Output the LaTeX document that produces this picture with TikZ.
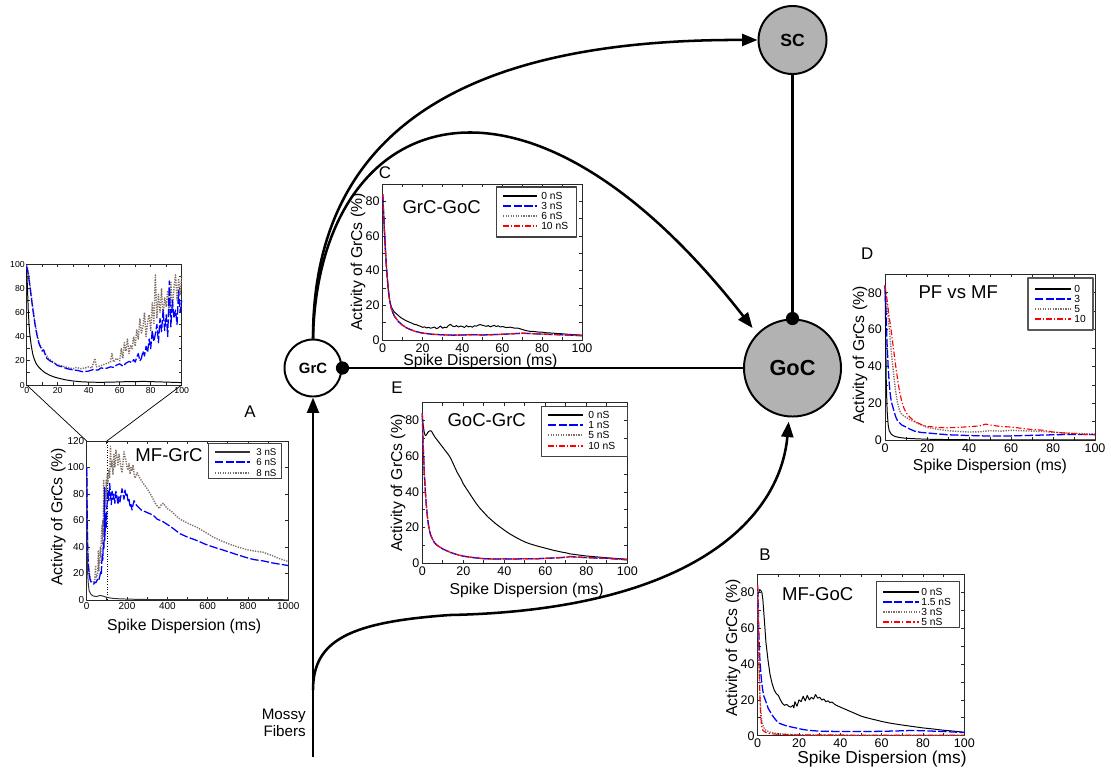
\documentclass[tikz,border=0pt]{standalone}
\usepackage{fontspec}
\setmainfont{Liberation Sans}
\usetikzlibrary{arrows.meta}

\definecolor{brn}{RGB}{128,110,100}
\definecolor{cellgray}{RGB}{178,178,178}
\definecolor{framec}{RGB}{40,40,40}

\newcommand\fsz[1]{\fontsize{#1pt}{#1pt}\selectfont}

% axes box with inward ticks on all four sides (data units)
% #1 xmax, #2 ymax, #3 x tick step, #4 y tick step, #5 tick length in x units, #6 tick length in y units
\newcommand\axesframe[6]{%
  \draw[frame] (0,0) rectangle (#1,#2);
  \foreach \t in {0,#3,...,#1}{\draw[frame] (\t,0) -- (\t,#6) (\t,#2) -- (\t,#2-#6);}
  \foreach \t in {0,#4,...,#2}{\draw[frame] (0,\t) -- (#5,\t) (#1,\t) -- (#1-#5,\t);}
}
% legend row: style, line start x, line end x, row y, text x, text, node name
\newcommand\legrow[7]{%
  \draw[#1, line width=1pt] (#2,#4) -- (#3,#4);
  \node[leg] (#7) at (#5,#4) {#6};
}

\tikzset{
  frame/.style={draw=framec, line width=0.6pt},
  panel/.style n args={4}{shift={(#1,#2)}, xscale=#3, yscale=#4},
  tkx/.style={font=\fsz{8.9}, anchor=north, inner sep=2.2pt},
  tky/.style={font=\fsz{8.9}, anchor=east, inner sep=2pt},
  axlab/.style={font=\fsz{11.2}, inner sep=0pt},
  ttl/.style={font=\fsz{13.2}, inner sep=0pt},
  letter/.style={font=\fsz{12}, inner sep=0pt},
  leg/.style={font=\fsz{7.3}, anchor=west, inner sep=0pt},
  legbox/.style={draw=black!75, line width=0.9pt},
  s0/.style={black, line width=0.7pt},
  s1/.style={blue, line width=0.9pt, dash pattern=on 6pt off 1.6pt},
  s2/.style={brn, line width=1pt, dash pattern=on 0.9pt off 0.9pt},
  s3/.style={red, line width=0.8pt, dash pattern=on 4pt off 1.5pt on 0.9pt off 1.5pt},
  cell/.style={circle, draw=black, line width=1.4pt, fill=cellgray, inner sep=0pt},
  conn/.style={line width=1.8pt, black},
  arr/.style={conn, -{Triangle[length=11pt, width=8.5pt]}},
}

\begin{document}
\begin{tikzpicture}[x=0.025cm, y=-0.025cm, line join=round]
\useasboundingbox (0,0) rectangle (1111,771);

%% ---------------- Panel A: inset 0-100 ms ----------------
\begin{scope}[panel={26.7}{385}{1.55}{-1.21}]
  \axesframe{100}{100}{10}{10}{1.9}{2.5}
  \foreach \v in {0,20,...,100}{
    \node[tkx, font=\fsz{6.2}, inner sep=1.5pt] (aix\v) at (\v,0) {\v};
    \node[tky, font=\fsz{6.2}, inner sep=1.2pt] (aiy\v) at (0,\v) {\v};}
  \coordinate (ainl) at (0,0);
  \coordinate (ainr) at (100,0);
  \draw[s0] plot coordinates {(0,95) (0.5,80) (1,62) (1.5,50) (2,42) (3,32) (4,25) (5,21) (6,18) (7,16) (8,14.5) (10,12) (12,10) (15,8) (18,6.5) (21,5.5) (25,4.3) (30,3.3) (35,2.7) (40,2.4) (47,2.2) (55,2.4) (60,2.6) (65,2.8) (70,2.8) (75,3) (80,2.8) (85,2.6) (90,2.4) (95,2.2) (100,2)};
  \draw[s2] plot coordinates {(0,99) (1,94) (2,84) (3,74) (4,64) (5,55) (6,47) (7,40) (8,35) (10,30) (12,26) (14,22) (16,20) (19,17) (22,16) (25,15) (28,14) (30,13.5) (32,14.5) (35,13.5) (38,14.2) (40,15) (42,14) (44,22) (45,15) (48,16) (50,17) (52,18) (54,19) (55,26) (56,19) (58,22) (60,20) (61,30) (62,22) (63,35) (64,28) (65,38) (66,26) (67,33) (68,30) (69,40) (70,32) (71,46) (72,38) (73,55) (74,43) (75,48) (76,60) (77,40) (78,52) (79,58) (80,45) (81,68) (82,50) (83,91) (84,55) (85,75) (86,60) (87,80) (88,55) (89,72) (90,65) (91,78) (92,58) (93,85) (94,62) (95,80) (96,91) (97,70) (98,88) (99,75) (100,90)};
  \draw[s1] plot coordinates {(0,98) (1,92) (2,82) (3,72) (4,62) (5,53) (6,45) (7,39) (8,34) (9,31) (10,28) (11,29) (12,25) (13,22) (15,20) (18,18) (20,16) (23,15) (26,13.5) (30,12.5) (33,12) (36,11) (40,11.5) (43,12.8) (46,12.3) (48,14.2) (50,13.5) (52,14) (54,15) (56,14.6) (58,16.5) (60,17.5) (62,15.5) (64,18) (66,19.5) (68,18.5) (69,21) (70,19) (71,23) (72,26) (73,20) (74,22) (75,28) (76,24) (77,32) (78,27) (79,38) (80,30) (81,45) (82,36) (83,42) (84,50) (85,35) (86,55) (87,44) (88,62) (89,45) (90,58) (91,40) (92,86) (93,48) (94,70) (95,55) (96,62) (97,50) (98,78) (99,60) (100,70)};
\end{scope}

%% ---------------- Panel A: 0-1000 ms ----------------
\begin{scope}[panel={86.7}{600}{0.2016}{-1.325}]
  \axesframe{1000}{120}{100}{20}{14.9}{2.3}
  \foreach \v in {0,200,...,1000}{\node[tkx, font=\fsz{7.1}, inner sep=1.8pt] (amx\v) at (\v,0) {\v};}
  \foreach \v in {0,20,...,120}{\node[tky, font=\fsz{7.1}, inner sep=1.6pt] (amy\v) at (0,\v) {\v};}
  \coordinate (amtl) at (0,120);
  \coordinate (amtc) at (100,120);
  \draw[black, line width=0.5pt, dash pattern=on 0.6pt off 1.2pt] (100,0) -- (100,120);
  \draw[s0, black!80] plot coordinates {(0,95) (1,85) (2,40) (4,22) (8,12) (12,7) (20,4.5) (30,3.2) (40,2.8) (50,2.6) (60,3.2) (70,3.4) (80,3) (90,2.5) (100,2) (120,1.4) (150,1) (200,0.7) (250,0.5) (300,0.4) (400,0.3) (1000,0.2)};
  \draw[s2] plot coordinates {(0,100) (1,92) (3,58) (5,40) (8,28) (12,22) (16,18) (20,15) (25,14) (30,14) (35,13.5) (40,15) (44,26) (46,17) (50,18) (55,20) (58,37) (60,22) (62,30) (65,28) (68,40) (70,32) (72,45) (75,56) (77,42) (80,60) (82,48) (84,91) (86,55) (88,70) (90,60) (92,85) (94,70) (96,91) (98,75) (100,90) (103,95) (106,88) (110,98) (114,92) (118,116) (122,100) (126,105) (130,95) (135,110) (140,100) (145,113) (150,108) (155,102) (160,110) (165,105) (170,100) (175,96) (180,104) (185,112) (190,108) (195,105) (200,100) (205,98) (210,103) (215,95) (220,100) (225,98) (230,102) (235,95) (240,92) (250,96) (260,93) (280,88) (300,84) (320,79) (340,73) (350,71) (360,69) (370,72) (380,73) (390,71) (400,69) (420,67) (440,64) (463,61) (500,58) (545,55) (590,51) (628,47.5) (670,44.5) (711,42) (750,40) (793,38) (830,37) (876,36) (920,33.5) (960,31) (1000,29)};
  \draw[s1] plot coordinates {(0,100) (1,90) (3,55) (5,38) (8,27) (12,20) (16,16) (20,14) (25,13) (30,12.5) (35,12) (40,13.5) (45,13) (50,14.5) (55,16) (60,15) (65,18) (70,22) (73,20) (75,29) (78,35) (80,30) (82,43) (85,38) (87,50) (88,85) (90,45) (92,55) (95,65) (97,55) (100,70) (103,75) (106,82) (110,75) (114,88) (118,80) (122,72) (126,82) (130,76) (135,80) (140,73) (145,82) (150,78) (155,72) (160,78) (165,74) (170,79) (175,84) (180,80) (185,76) (190,83) (195,78) (200,80) (205,74) (210,76) (215,70) (220,72) (225,68) (230,72) (235,75) (240,73) (250,71) (270,68) (300,66) (330,64) (350,61) (380,59) (420,55) (463,50) (500,47.5) (545,45) (590,42) (628,40) (670,38) (711,36) (750,34) (793,32) (830,30.5) (876,29.5) (920,28) (960,27) (1000,26)};
\end{scope}
\draw[black, line width=0.5pt] (amtl) -- (ainl);
\draw[black, line width=0.5pt] (amtc) -- (ainr);
\node[axlab, rotate=90] (aylab) at (58.3,517) {Activity of GrCs (\%)};
\node[axlab] (axlab) at (184.2,626.7) {Spike Dispersion (ms)};
\node[ttl] (attl) at (169,455) {MF-GrC};
\node[letter] (alet) at (250,411.7) {A};
\draw[legbox] (208.3,443.3) rectangle (281.7,478.3);
\tikzset{leg/.append style={font=\fsz{6.9}, anchor=east}}
\legrow{s0, black!80}{215}{250}{452}{276.7}{3 nS}{aL1}
\legrow{s1}{215}{250}{462}{276.7}{6 nS}{aL2}
\legrow{s2}{215}{250}{473}{276.7}{8 nS}{aL3}
\tikzset{leg/.append style={font=\fsz{7.3}, anchor=west}}

%% ---------------- Panel C ----------------
\begin{scope}[panel={382.7}{340}{1.993}{-1.733}]
  \axesframe{100}{90}{10}{10}{1.5}{1.73}
  \foreach \v in {0,20,...,100}{\node[tkx] (cx\v) at (\v,0) {\v};}
  \foreach \v in {0,20,...,80}{\node[tky] (cy\v) at (0,\v) {\v};}
  \draw[s0] plot coordinates {(0,84) (0.5,72) (1,60) (1.5,49) (2,40) (2.5,33) (3,27) (3.5,23) (4,20) (5,17.5) (6,16) (7,15) (8,14) (9,13) (10,12.3) (11,11.6) (12,11) (13,10.5) (14,10) (15,9.5) (16,9) (17,8.8) (18,8.3) (19,7.9) (20,7.3) (21,7.6) (22,7) (23,7.3) (24,6.8) (25,7.1) (26,7.5) (27,6.5) (28,7.1) (29,8.1) (30,6.8) (31,7.4) (32,7.1) (33,8.4) (34,9) (35,8) (36,7.7) (37,8.3) (38,7.5) (39,8.1) (40,7.8) (41,7.2) (42,8.3) (43,7.6) (44,7.9) (45,7.4) (46,8.2) (47,8) (48,8.6) (49,8.9) (50,8.5) (51,8.2) (52,7.9) (53,8.3) (54,7.6) (55,8.1) (56,8.4) (57,7.8) (58,8.2) (59,7.5) (60,7.8) (62,7.2) (64,7.4) (66,6.9) (68,6.8) (70,6.1) (72,5.4) (74,5) (76,4.9) (78,4.6) (80,4.5) (82,4.2) (85,4) (88,3.7) (90,3.6) (93,3.3) (96,3.1) (100,2.8)};
  \foreach \st in {s2,s1,s3}{
    \draw[\st] plot coordinates {(0,84) (0.5,72) (1,60) (1.5,49) (2,40) (2.5,33) (3,27) (3.5,23) (4,20) (4.5,17.5) (5,16) (6,13.5) (7,12) (8,10.5) (10,8.5) (12,7) (14,6) (16,5.1) (18,4.5) (20,4) (25,3.3) (30,3) (35,2.8) (40,2.9) (45,3.1) (50,2.9) (55,3.1) (60,3.3) (65,3.6) (70,3.9) (75,3.7) (80,3.4) (85,3.2) (90,3) (95,2.8) (100,2.5)};}
\end{scope}
\node[axlab, rotate=90] (cylab) at (358,262) {Activity of GrCs (\%)};
\node[axlab] (cxlab) at (480.5,361.7) {Spike Dispersion (ms)};
\node[ttl] (cttl) at (441.7,206.7) {GrC-GoC};
\node[letter] (clet) at (385,173) {C};
\draw[legbox] (496.7,187) rectangle (576.7,237);
\legrow{s0}{503}{537}{196}{541}{0 nS}{cL1}
\legrow{s1}{503}{537}{206}{541}{3 nS}{cL2}
\legrow{s2}{503}{537}{216}{541}{6 nS}{cL3}
\legrow{s3}{503}{537}{226}{541}{10 nS}{cL4}

%% ---------------- Panel E ----------------
\begin{scope}[panel={422.3}{563.3}{2.05}{-1.784}]
  \axesframe{100}{90}{10}{10}{1.46}{1.68}
  \foreach \v in {0,20,...,100}{\node[tkx] (ex\v) at (\v,0) {\v};}
  \foreach \v in {0,20,...,80}{\node[tky] (ey\v) at (0,\v) {\v};}
  \draw[s0] plot coordinates {(0,82) (0.5,77) (1,73) (1.5,71.5) (2,72) (2.5,73) (3,73.8) (3.5,74.2) (4,74.3) (4.5,74) (5,73) (6,71) (7,69.5) (8,68) (9,66.5) (10,65) (11,63.5) (12,62) (13,60.5) (14,58.5) (15,56) (16,53.5) (17,51) (18,49) (19,47) (20,44.5) (22,41) (24,37.5) (26,34) (28,31) (30,28.5) (32,26) (34,24) (36,22) (38,20.3) (40,18.6) (42,17) (44,15.6) (46,14.3) (48,13.1) (50,12) (52,11.1) (54,10.4) (56,9.7) (58,9.1) (60,8.5) (62,7.9) (64,7.3) (66,6.8) (68,6.3) (70,5.9) (72,5.3) (74,5) (76,4.7) (78,4.4) (80,4.1) (85,3.6) (90,3.1) (95,2.7) (100,2.3)};
  \foreach \st in {s2,s1,s3}{
    \draw[\st] plot coordinates {(0,84) (0.3,70) (0.7,58) (1,50) (1.5,40) (2,32) (2.5,26) (3,21.5) (3.5,18.5) (4,16) (5,13.5) (6,11.5) (7,10.3) (8,9.5) (9,8.8) (10,8) (12,7) (14,6) (16,5.2) (18,4.6) (20,4) (25,3.2) (30,2.6) (35,2.4) (40,2.5) (45,2.4) (50,2.6) (55,2.5) (60,2.8) (65,3) (70,3.4) (72,3.8) (75,3.5) (80,3.2) (85,3) (90,2.8) (95,2.4) (100,2)};}
\end{scope}
\node[axlab, rotate=90] (eylab) at (398,483.3) {Activity of GrCs (\%)};
\node[axlab] (exlab) at (526.7,590) {Spike Dispersion (ms)};
\node[ttl] (ettl) at (486.7,420) {GoC-GrC};
\node[letter] (elet) at (397,388) {E};
\draw[legbox] (541.7,406.7) rectangle (627.3,456.7);
\legrow{s0}{548}{583}{415}{588}{0 nS}{eL1}
\legrow{s1}{548}{583}{425}{588}{1 nS}{eL2}
\legrow{s2}{548}{583}{435}{588}{5 nS}{eL3}
\legrow{s3}{548}{583}{446}{588}{10 nS}{eL4}

%% ---------------- Panel D ----------------
\begin{scope}[panel={885}{440.3}{2.1}{-1.844}]
  \axesframe{100}{90}{10}{10}{1.43}{1.63}
  \foreach \v in {0,20,...,100}{\node[tkx] (dx\v) at (\v,0) {\v};}
  \foreach \v in {0,20,...,80}{\node[tky] (dy\v) at (0,\v) {\v};}
  \draw[s0] plot coordinates {(0,84) (0.3,60) (0.6,32) (1,16) (1.5,8.5) (2,5.2) (3,3.3) (4,2.5) (5,2) (7,1.5) (10,1.1) (15,0.8) (20,0.6) (30,0.4) (40,0.3) (60,0.3) (80,0.3) (100,0.3)};
  \draw[s2] plot coordinates {(0,84) (1,72) (2,61) (3,48) (4,37) (5,27) (6,20) (7,16) (8,14) (10,12.5) (12,11) (14,10) (16,9) (18,8) (20,7) (25,6) (30,5.2) (35,4.8) (40,4.5) (45,4.6) (50,5.2) (55,5) (60,5.4) (65,5.2) (70,5) (75,4.8) (80,4.4) (85,4) (90,3.8) (100,3.3)};
  \draw[s1] plot coordinates {(0,84) (0.5,70) (1,52) (1.5,40) (2,31) (2.5,25) (3,21) (4,17) (5,13) (6,10.5) (8,8.3) (10,7.2) (12,6) (14,5) (17,4.3) (20,4) (25,3.5) (30,3) (35,2.8) (40,2.6) (50,2.3) (60,2.4) (70,2.7) (80,3) (90,3.2) (100,3.2)};
  \draw[s3] plot coordinates {(0,84) (1,76) (2,67) (3,59) (4,50) (5,41) (6,33) (7,26) (8,21) (9,17.5) (10,15) (12,12.3) (14,10.5) (16,9.2) (18,8.2) (20,7.6) (25,7) (30,6.8) (35,7) (40,7.4) (45,7.8) (48,8.8) (50,8.3) (55,7.5) (60,7.2) (65,6.5) (70,5.8) (75,5.5) (80,4.5) (85,4) (90,3.6) (95,3.2) (100,3)};
\end{scope}
\node[axlab, rotate=90] (dylab) at (860,355) {Activity of GrCs (\%)};
\node[axlab] (dxlab) at (990,466) {Spike Dispersion (ms)};
\node[ttl] (dttl) at (958.3,291.7) {PF vs MF};
\node[letter] (dlet) at (867.3,254) {D};
\draw[legbox, line width=1.2pt, draw=black!65] (1028.3,278.3) rectangle (1092.7,330);
\legrow{s0}{1035}{1070.7}{289}{1074}{0}{dL1}
\legrow{s1}{1035}{1070.7}{299}{1074}{3}{dL2}
\legrow{s2}{1035}{1070.7}{309}{1074}{5}{dL3}
\legrow{s3}{1035}{1070.7}{319}{1074}{10}{dL4}

%% ---------------- Panel B ----------------
\begin{scope}[panel={757.7}{735.8}{2.066}{-1.794}]
  \axesframe{100}{90}{10}{10}{1.45}{1.67}
  \foreach \v in {0,20,...,100}{\node[tkx] (bx\v) at (\v,0) {\v};}
  \foreach \v in {0,20,...,80}{\node[tky] (by\v) at (0,\v) {\v};}
  \draw[s0] plot coordinates {(0,78) (0.5,80) (1,81.5) (1.5,81) (2,80) (2.5,76) (3,68) (3.5,60) (4,52) (5,42) (6,34) (7,29) (8,25.5) (9,23.5) (10,22.5) (11,20) (12,18) (13,17) (14,17.5) (15,16.5) (16,16) (17,17) (17.5,15.5) (18,19) (19,16.5) (20,20) (21,19) (22,22) (23,19.5) (24,22.5) (25,20) (26,21.5) (27,20.5) (28,23) (29,21) (30,21.5) (31,20) (32,20.5) (33,19) (34,19.5) (35,18.5) (36,18.8) (37,17.8) (38,17) (40,16) (42,15) (44,14) (46,13) (48,12) (50,11) (52,10.3) (55,9.4) (58,8.6) (60,8) (63,7.3) (66,6.7) (70,6) (75,5.2) (80,4.4) (85,3.8) (90,3.1) (95,2.6) (100,2)};
  \draw[s1] plot coordinates {(0,82) (0.3,70) (0.6,55) (1,44) (1.5,35) (2,29) (2.5,25) (3,22) (4,19) (5,15.5) (6,13.5) (7,11.5) (8,10) (9,8.5) (10,7.2) (12,6.3) (14,5.5) (16,5) (18,4.5) (20,4) (22,3.5) (25,3) (30,2.6) (40,2.4) (50,2.4) (60,2.5) (70,2.8) (75,3) (80,2.8) (90,2.4) (100,1.8)};
  \draw[s2] plot coordinates {(0,82) (0.3,60) (0.6,40) (1,25) (1.5,14) (2,8) (3,4.5) (4,3) (6,2) (8,1.5) (12,1) (20,0.6) (30,0.4) (50,0.3) (100,0.3)};
  \draw[s3] plot coordinates {(0,84) (0.3,62) (0.6,42) (1,24) (1.3,14) (1.8,6) (2.5,3) (4,1.8) (6,1.2) (10,0.8) (20,0.5) (50,0.4) (100,0.4)};
\end{scope}
\node[axlab, rotate=90] (bylab) at (733,648) {Activity of GrCs (\%)};
\node[axlab, font=\fsz{12.3}] (bxlab) at (882,759.3) {Spike Dispersion (ms)};
\node[ttl] (bttl) at (817.7,594.3) {MF-GoC};
\node[letter] (blet) at (765,555) {B};
\draw[legbox] (876.7,581.7) rectangle (959.3,627.3);
\legrow{s0}{883.3}{919.3}{592}{921}{0 nS}{bL1}
\legrow{s1}{883.3}{919.3}{602}{921}{1.5 nS}{bL2}
\legrow{s2}{883.3}{919.3}{612}{921}{3 nS}{bL3}
\legrow{s3}{883.3}{919.3}{622}{921}{5 nS}{bL4}

%% ---------------- Circuit ----------------
\node[cell, minimum size=1.7cm, font=\bfseries\fsz{12.5}] (sc) at (792.5,40) {SC};
\node[cell, minimum size=2.425cm, font=\bfseries\fsz{15.5}] (goc) at (792.5,368) {GoC};
\node[cell, fill=white, minimum size=1.425cm, font=\bfseries\fsz{10.6}] (grc) at (313,368) {GrC};

\draw[conn] (sc) -- (goc);
\fill (goc.north) circle (4.7pt);
\draw[conn] (goc) -- (grc);
\fill (grc.east) circle (4.7pt);

\coordinate (mfroot) at (313,757);
\coordinate (mfbranch) at (313,690);
\draw[arr] (mfroot) -- (grc);
\draw[arr, shorten >=3pt] (mfbranch) .. controls (313,640) and (350,622) .. (450,615)
  .. controls (690,610) and (780,520) .. (goc.266);
\draw[arr] (grc.north) .. controls (313,120) and (480,39) .. (sc.west);
\draw[arr, shorten >=5pt] (grc.north) .. controls (318,110) and (520,30) .. (goc.136);

\node[font=\fontsize{10.8pt}{12.3pt}\selectfont, align=right, anchor=east, inner sep=0pt] (mftxt) at (306,723) {Mossy\\Fibers};
\end{tikzpicture}
\end{document}
